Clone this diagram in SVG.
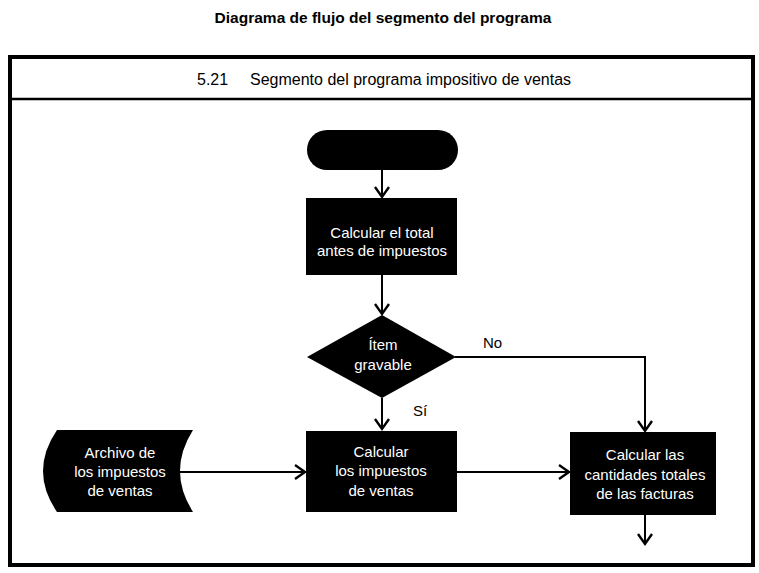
<svg xmlns="http://www.w3.org/2000/svg" width="759" height="573" viewBox="0 0 759 573">
<style>
text{font-family:"Liberation Sans",Arial,sans-serif;}
.t{font-size:15.5px;font-weight:bold;fill:#000;text-anchor:middle;}
.h{font-size:16px;fill:#000;}
.n{font-size:15px;fill:#fff;text-anchor:middle;}
.l{font-size:15px;fill:#000;}
.shape{fill:#000;stroke:none;}
.c{fill:none;stroke:#000;stroke-width:2;}
</style>
<defs>
<marker id="ah" markerUnits="userSpaceOnUse" markerWidth="16" markerHeight="18" refX="11" refY="8" orient="auto">
<path d="M1,1 L11,8 L1,15" fill="none" stroke="#000" stroke-width="2.4"/>
</marker>
</defs>
<rect width="759" height="573" fill="#fff"/>
<text class="t" x="383" y="23">Diagrama de flujo del segmento del programa</text>
<g id="frame">
<rect x="10" y="57" width="743" height="508" fill="none" stroke="#000" stroke-width="4"/>
<line x1="10" y1="99" x2="753" y2="99" stroke="#000" stroke-width="2.5"/>
<text class="h" x="197" y="85">5.21</text>
<text class="h" x="250" y="85">Segmento del programa impositivo de ventas</text>
</g>
<g id="connectors">
<line class="c" x1="382" y1="170" x2="382" y2="197" marker-end="url(#ah)"/>
<line class="c" x1="382" y1="275" x2="382" y2="314" marker-end="url(#ah)"/>
<line class="c" x1="382" y1="398" x2="382" y2="429" marker-end="url(#ah)"/>
<polyline class="c" points="455,357 645,357 645,431" marker-end="url(#ah)"/>
<line class="c" x1="180" y1="472" x2="305" y2="472" marker-end="url(#ah)"/>
<line class="c" x1="456" y1="472" x2="569" y2="472" marker-end="url(#ah)"/>
<line class="c" x1="645" y1="515" x2="645" y2="544" marker-end="url(#ah)"/>
<text class="l" x="483" y="348">No</text>
<text class="l" x="413" y="416">Sí</text>
</g>
<g id="start">
<rect class="shape" x="307" y="130" width="151" height="40" rx="20" ry="20"/>
</g>
<g id="calc-total">
<rect class="shape" x="306" y="198" width="151" height="77"/>
<text class="n" x="382" y="238">Calcular el total</text>
<text class="n" x="382" y="256">antes de impuestos</text>
</g>
<g id="decision">
<polygon class="shape" points="382,315 456,357 382,398 307,357"/>
<text class="n" x="383" y="350">Ítem</text>
<text class="n" x="383" y="370">gravable</text>
</g>
<g id="file">
<path class="shape" d="M57,430 L193,430 Q167,471 193,512 L57,512 Q29,471 57,430 Z"/>
<text class="n" x="120" y="458">Archivo de</text>
<text class="n" x="120" y="477">los impuestos</text>
<text class="n" x="120" y="496">de ventas</text>
</g>
<g id="calc-tax">
<rect class="shape" x="306" y="431" width="151" height="81"/>
<text class="n" x="381" y="457">Calcular</text>
<text class="n" x="381" y="476">los impuestos</text>
<text class="n" x="381" y="496">de ventas</text>
</g>
<g id="calc-totals">
<rect class="shape" x="570" y="432" width="146" height="83"/>
<text class="n" x="645" y="460">Calcular las</text>
<text class="n" x="645" y="480">cantidades totales</text>
<text class="n" x="645" y="499">de las facturas</text>
</g>
</svg>
